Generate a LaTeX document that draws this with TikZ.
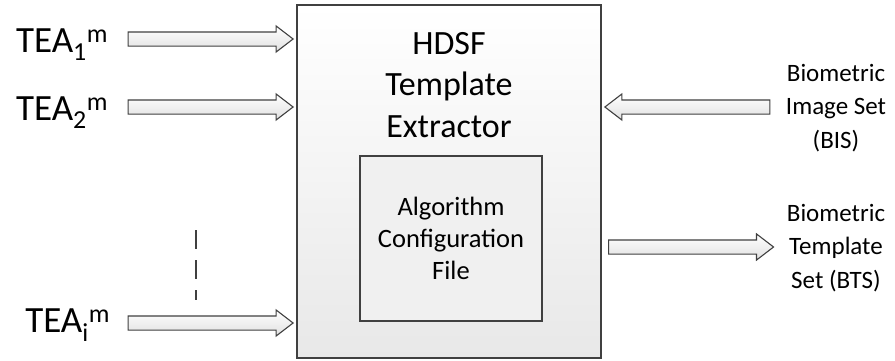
\documentclass[tikz,border=0pt]{standalone}
\usepackage{fontspec}
\setmainfont{Carlito}
\usetikzlibrary{shapes.arrows,positioning}
\definecolor{edgegray}{HTML}{404040}
\tikzset{
	blockarrow/.style={single arrow, draw=edgegray, line width=1.1pt, top color=white, bottom color=black!12,
		minimum height=165pt, text height=0pt, text depth=0pt, inner xsep=0pt, inner ysep=6.5pt,
		single arrow head extend=6pt, single arrow tip angle=75},
	teatext/.style={anchor=base east, font=\fontsize{37}{40}\selectfont},
	sidetext/.style={align=center, font=\fontsize{25}{33.5}\selectfont}
}
\begin{document}
\begin{tikzpicture}[x=1pt,y=1pt]
	%%%%% START %%%%%
	\useasboundingbox (0,0) rectangle (895,360);
	
	% extractor block
	\node[draw=edgegray, line width=1.3pt, top color=white, bottom color=black!9, minimum width=304pt, minimum height=353pt] (hdsf) at (449,178.5) {};
	\node[align=center, font=\fontsize{34}{41.5}\selectfont] (title) at (449,275) {HDSF\\Template\\Extractor};
	\node[draw=edgegray, line width=1.3pt, fill=black!6, minimum width=182pt, minimum height=165pt, align=center, font=\fontsize{26.5}{32}\selectfont] (config) at (451,121.5) {Algorithm\\Configuration\\File};
	
	% inputs on the left
	\node[blockarrow, anchor=tip] (a1) at (294,321) {};
	\node[blockarrow, anchor=tip] (a2) at (294,253) {};
	\node[blockarrow, anchor=tip] (ai) at (294,37) {};
	\node[teatext] (tea1) at ([xshift=-16pt,yshift=-13pt]a1.tail) {TEA\textsubscript{1}\textsuperscript{m}};
	\node[teatext] (tea2) at ([xshift=-16pt,yshift=-13pt]a2.tail) {TEA\textsubscript{2}\textsuperscript{m}};
	\node[teatext] (teai) at ([xshift=-14pt,yshift=-9pt]ai.tail) {TEA\textsubscript{i}\textsuperscript{m}};
	
	\coordinate (dtop) at (196,130);
	\coordinate (dbot) at (196,60);
	\draw[edgegray, line width=1.4pt, dash pattern=on 19pt off 11pt] (dtop) -- (dbot);
	
	% image set in, template set out
	\node[blockarrow, shape border rotate=180, anchor=tip] (bis) at (604,253) {};
	\node[sidetext] (bislab) at (836,252) {Biometric\\Image Set\\(BIS)};
	\node[blockarrow, anchor=tail] (bts) at (608,113) {};
	\node[sidetext] (btslab) at (836,112) {Biometric\\Template\\Set (BTS)};
	%%%%% END %%%%%
\end{tikzpicture}
\end{document}
